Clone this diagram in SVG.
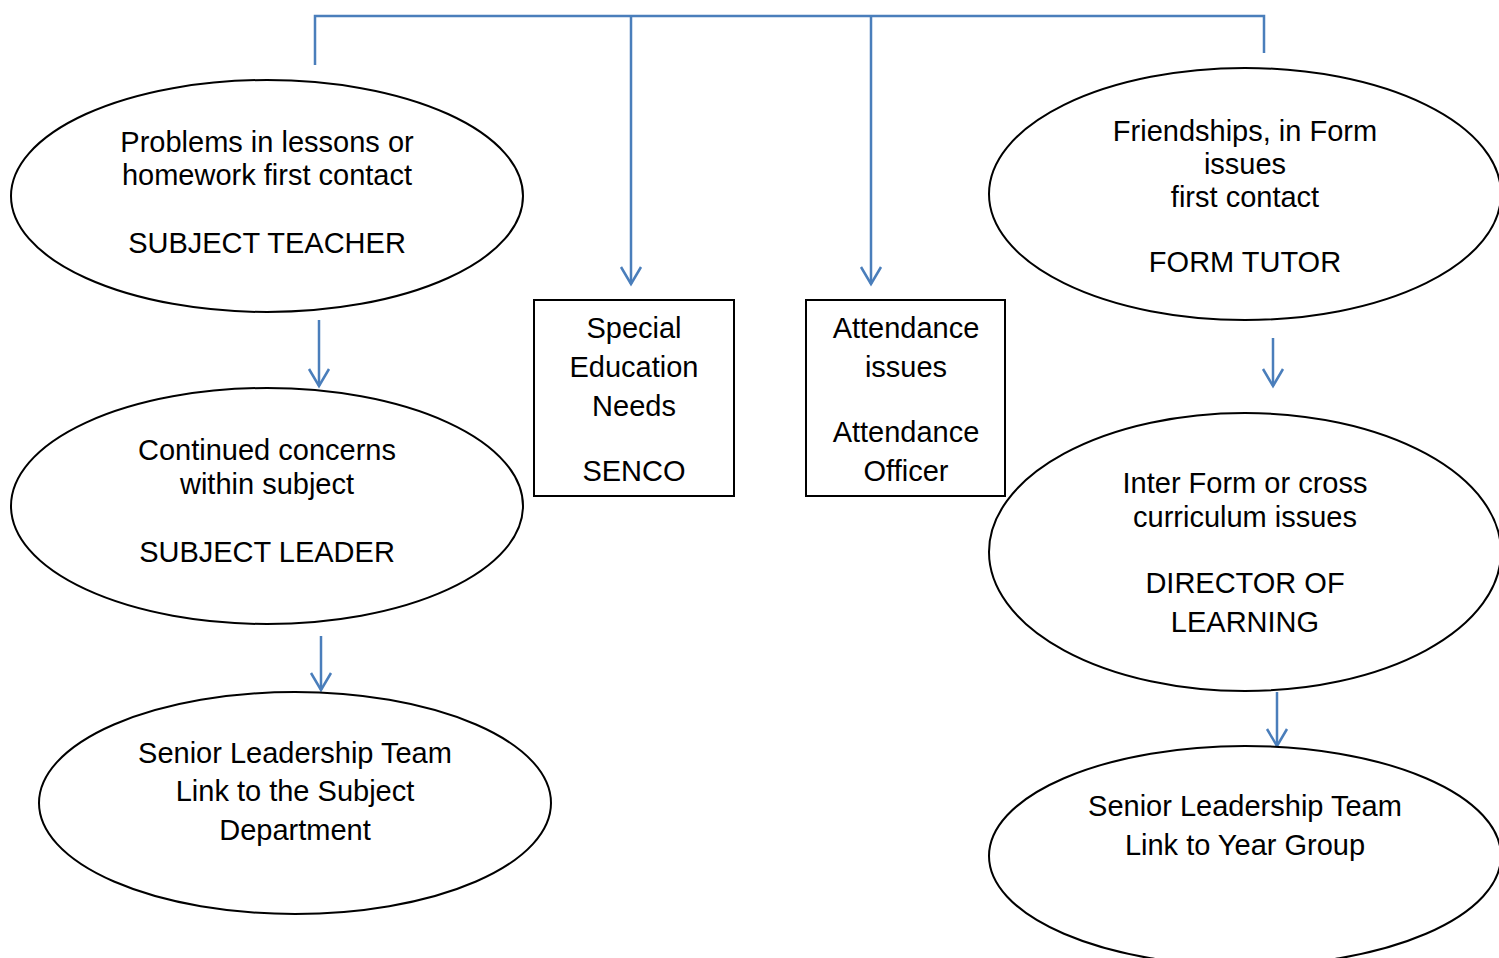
<svg xmlns="http://www.w3.org/2000/svg" width="1499" height="958" viewBox="0 0 1499 958">
<defs>
<marker id="arr" markerUnits="userSpaceOnUse" viewBox="-20 -12 22 24" markerWidth="22" markerHeight="24" refX="0" refY="0" orient="auto" overflow="visible">
<path d="M-17,-10 L0,0 L-17,10" fill="none" stroke="#4a7ebb" stroke-width="2.5"/>
</marker>
</defs>
<style>
.n{fill:#fff;stroke:#000;stroke-width:2}
.c{fill:none;stroke:#4a7ebb;stroke-width:2.5}
text{font-family:"Liberation Sans",Arial,sans-serif;font-size:29px;fill:#000;text-anchor:middle}
</style>
<rect width="1499" height="958" fill="#fff"/>
<g id="connectors">
<path class="c" d="M315,65 V16 H1264 V53"/>
<path class="c" d="M631,16 V284" marker-end="url(#arr)"/>
<path class="c" d="M871,16 V284" marker-end="url(#arr)"/>
<path class="c" d="M319,320 V386" marker-end="url(#arr)"/>
<path class="c" d="M321,636 V690" marker-end="url(#arr)"/>
<path class="c" d="M1273,338 V386" marker-end="url(#arr)"/>
<path class="c" d="M1277,692 V746" marker-end="url(#arr)"/>
</g>
<g id="subject-teacher">
<ellipse class="n" cx="267" cy="196" rx="256" ry="116"/>
<text x="267" y="152">Problems in lessons or</text>
<text x="267" y="185">homework first contact</text>
<text x="267" y="253">SUBJECT TEACHER</text>
</g>
<g id="subject-leader">
<ellipse class="n" cx="267" cy="506" rx="256" ry="118"/>
<text x="267" y="460">Continued concerns</text>
<text x="267" y="494">within subject</text>
<text x="267" y="562">SUBJECT LEADER</text>
</g>
<g id="slt-subject">
<ellipse class="n" cx="295" cy="803" rx="256" ry="111"/>
<text x="295" y="763">Senior Leadership Team</text>
<text x="295" y="801">Link to the Subject</text>
<text x="295" y="840">Department</text>
</g>
<g id="senco">
<rect class="n" x="534" y="300" width="200" height="196"/>
<text x="634" y="338">Special</text>
<text x="634" y="377">Education</text>
<text x="634" y="416">Needs</text>
<text x="634" y="481">SENCO</text>
</g>
<g id="attendance">
<rect class="n" x="806" y="300" width="199" height="196"/>
<text x="906" y="338">Attendance</text>
<text x="906" y="377">issues</text>
<text x="906" y="442">Attendance</text>
<text x="906" y="481">Officer</text>
</g>
<g id="form-tutor">
<ellipse class="n" cx="1245" cy="194" rx="256" ry="126"/>
<text x="1245" y="141">Friendships, in Form</text>
<text x="1245" y="174">issues</text>
<text x="1245" y="207">first contact</text>
<text x="1245" y="272">FORM TUTOR</text>
</g>
<g id="director">
<ellipse class="n" cx="1245" cy="552" rx="256" ry="139"/>
<text x="1245" y="493">Inter Form or cross</text>
<text x="1245" y="527">curriculum issues</text>
<text x="1245" y="593">DIRECTOR OF</text>
<text x="1245" y="632">LEARNING</text>
</g>
<g id="slt-year">
<ellipse class="n" cx="1245" cy="856" rx="256" ry="110"/>
<text x="1245" y="816">Senior Leadership Team</text>
<text x="1245" y="855">Link to Year Group</text>
</g>
</svg>
